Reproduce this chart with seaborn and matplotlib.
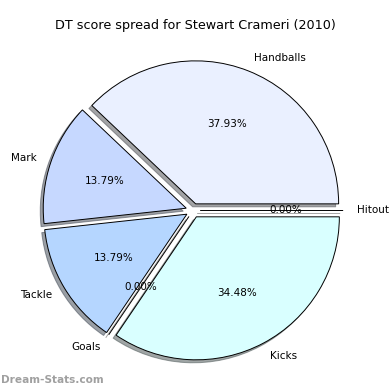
import matplotlib
matplotlib.use("Agg")
import matplotlib.pyplot as plt
import seaborn as sns

sns.set_style("white")
plt.rcParams['font.family'] = ['DejaVu Sans']
plt.rcParams['text.color'] = 'black'

categories = ["Hitout", "Handballs", "Mark", "Tackle", "Goals", "Kicks"]
values = [0, 11, 4, 4, 0, 10]
colors = ["#ffffff", "#eaf0ff", "#c6d8ff", "#b5d6ff", "#ffffff", "#d9ffff"]
title = "DT score spread for Stewart Crameri (2010)"

fig = plt.figure(figsize=(3.9, 3.9), dpi=100)
W = 357.5 / 390
cx, cy = 193 / 390, 1 - 210.5 / 390
ax = fig.add_axes([cx - W / 2, cy - W / 2, W, W])

wedges, texts, autotexts = ax.pie(
    values, labels=categories, colors=colors, explode=[0.05] * len(values),
    autopct="%1.2f%%", startangle=0, counterclock=True,
    shadow=dict(ox=-0.015, oy=-0.015),
    wedgeprops=dict(edgecolor="black", linewidth=0.7),
    textprops=dict(fontsize=7.5, color="black"),
)
ax.set_aspect("equal")
ax.set_xlim(-1.25, 1.25)
ax.set_ylim(-1.25, 1.25)

fig.text(195 / 390, 1 - 25 / 390, title, ha="center", va="center",
         fontsize=9.2, color="black")
fig.text(0.5 / 390, 1 - 380 / 390, "Dream-Stats.com", ha="left", va="center",
         fontsize=7.6, color="#a0a0a0", fontweight="bold")

fig.savefig("out.png", dpi=100)
